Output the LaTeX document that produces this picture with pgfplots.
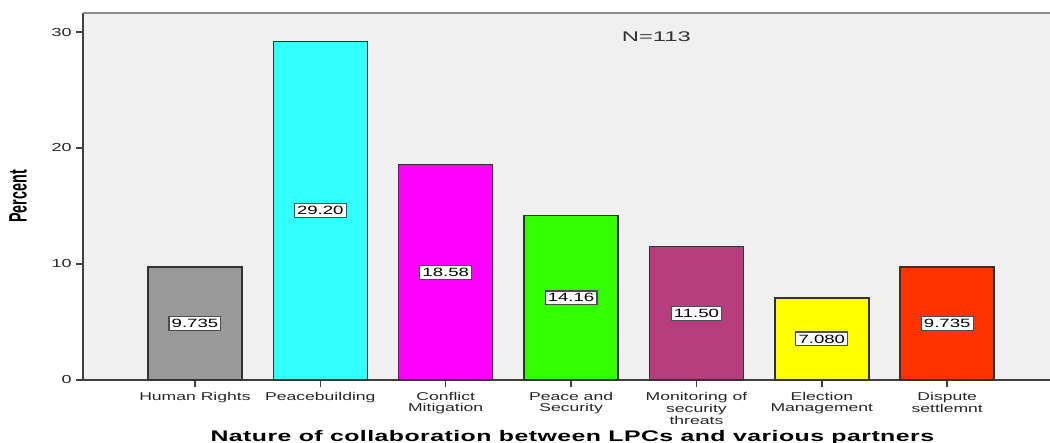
\documentclass[border=0pt]{standalone}
\usepackage{pgfplots}
\pgfplotsset{compat=1.18}
\usepackage{fontspec}
\setmainfont{Liberation Sans}
\newfontfamily\wide[FakeStretch=1.55]{Liberation Sans}
\newfontfamily\wider[FakeStretch=1.7]{Liberation Sans}
\newfontfamily\titlefont[FakeStretch=1.62,LetterSpace=3]{Liberation Sans}
\newfontfamily\narrow[FakeStretch=0.57]{Liberation Sans}

\definecolor{plotbg}{HTML}{F0F0F0}
\definecolor{cHR}{HTML}{999999}
\definecolor{cPB}{HTML}{33FFFF}
\definecolor{cCM}{HTML}{FF00FF}
\definecolor{cPS}{HTML}{33FF00}
\definecolor{cMS}{HTML}{B83D7D}
\definecolor{cEM}{HTML}{FFFF00}
\definecolor{cDS}{HTML}{FF3300}

\begin{document}
\begin{tikzpicture}
\begin{axis}[
  x=94.05pt, y=8.7pt,
  xmin=-0.893, xmax=6.82, ymin=0, ymax=31.64,
  axis lines*=left,
  axis line style={-, draw=black!75, line width=1.2pt},
  axis background/.style={fill=plotbg},
  ybar, bar width=0.75, bar shift=0pt,
  xtick={0,...,6},
  xticklabels={Human Rights, Peacebuilding, {Conflict\\Mitigation}, {Peace and\\Security}, {Monitoring of\\security\\threats}, {Election\\Management}, {Dispute\\settlemnt}},
  ytick={0,10,20,30},
  tick align=outside, major tick length=5pt,
  tick style={draw=black!75, line width=1.2pt},
  xticklabel style={font=\wide\fontsize{8.5}{7.6}\selectfont, align=center, text=black!85, yshift=-1pt},
  yticklabel style={font=\wide\fontsize{8.7}{9}\selectfont, text=black!85},
  /pgf/number format/assume math mode=true,
  xlabel={Nature of collaboration between LPCs and various partners},
  every axis x label/.style={at={(rel axis cs:0.506,0)}, yshift=-43pt, anchor=center,
    font=\titlefont\bfseries\fontsize{11.5}{12}\selectfont},
  ylabel={Percent},
  every axis y label/.style={at={(rel axis cs:0,0.5)}, xshift=-48.75pt, anchor=center, rotate=90,
    font=\narrow\bfseries\fontsize{18.9}{20}\selectfont},
  nodes near coords, point meta=explicit symbolic,
  visualization depends on=rawy \as \rawy,
  every node near coord/.append style={anchor=center, yshift={-0.5*\rawy*8.7pt},
    fill=white, draw=black!70, line width=0.9pt, inner sep=2pt,
    font=\wide\fontsize{9}{9}\selectfont, text=black},
  clip=false,
]
\addplot[fill=cHR, draw=black!80, line width=1.1pt] coordinates {(0,9.735) [9.735]};
\addplot[fill=cPB, draw=black!80, line width=1.1pt] coordinates {(1,29.20) [29.20]};
\addplot[fill=cCM, draw=black!80, line width=1.1pt] coordinates {(2,18.58) [18.58]};
\addplot[fill=cPS, draw=black!80, line width=1.1pt] coordinates {(3,14.16) [14.16]};
\addplot[fill=cMS, draw=black!80, line width=1.1pt] coordinates {(4,11.50) [11.50]};
\addplot[fill=cEM, draw=black!80, line width=1.1pt] coordinates {(5,7.080) [7.080]};
\addplot[fill=cDS, draw=black!80, line width=1.1pt] coordinates {(6,9.735) [9.735]};
\draw[black!45, line width=1.5pt] (rel axis cs:0,1) -- (rel axis cs:1,1);
\node[font=\wider\fontsize{10.5}{11}\selectfont, text=black!80] at (axis cs:3.68,29.57) {N=113};
\coordinate (bl) at (rel axis cs:0,0);
\coordinate (tr) at (rel axis cs:1,1);
\end{axis}
\pgfresetboundingbox
\path[use as bounding box] ([shift={(-62.25pt,-47.25pt)}]bl) rectangle ([shift={(0pt,9.75pt)}]tr);
\end{tikzpicture}
\end{document}
